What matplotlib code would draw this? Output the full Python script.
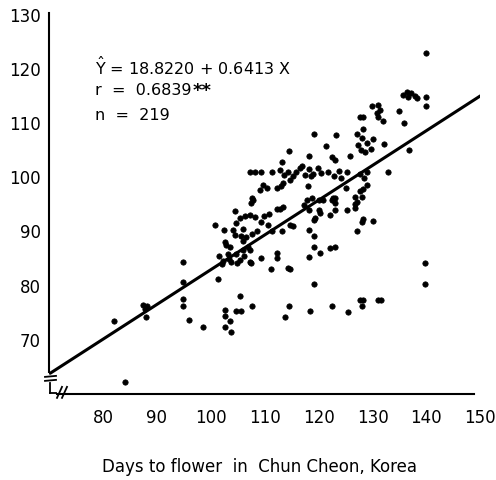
import matplotlib
matplotlib.use("Agg")
import matplotlib.pyplot as plt
from matplotlib.lines import Line2D

plt.rcParams['font.family'] = ['DejaVu Sans']
plt.rcParams['mathtext.fontset'] = 'dejavusans'

# ---- data ----
days_x = [
    82.0, 84.0, 87.5, 88.1, 87.8, 88.0, 94.9, 94.9, 94.9, 94.9, 95.9, 98.6,
    101.4, 105.5, 102.6, 102.6, 103.6, 102.6, 103.7, 104.7, 105.6, 107.6,
    113.8, 114.5, 118.4, 122.4, 125.5, 127.7, 128.2, 128.1, 131.0, 131.6,
    119.1, 114.7, 139.7, 139.7,
    101.5, 102.3, 103.1, 103.8, 104.6, 105.4, 106.1, 102.0, 103.4, 104.9,
    107.2, 107.5, 109.3,
    102.6, 102.9, 103.6, 106.9, 107.3, 106.0, 106.0,
    100.8, 102.4, 104.5,
    104.1, 104.5, 104.7, 105.5, 106.4, 107.3, 108.2, 109.4, 110.6, 111.4,
    105.6, 106.6, 107.6, 108.6, 109.9, 110.8, 106.0,
    112.3, 112.3, 111.2, 114.3,
    112.8, 112.3, 114.7, 113.2, 113.4,
    107.6, 107.4, 107.9,
    107.3, 108.2, 109.4, 111.3,
    112.8, 113.6, 114.4, 115.2,
    115.8, 116.6, 117.4, 118.2, 119.0, 119.8, 120.5, 117.0, 118.6,
    121.8, 122.8, 123.7, 125.2, 124.2,
    109.7, 110.4, 109.1, 113.4, 113.1, 112.2, 114.7, 118.1,
    113.2, 114.5, 118.2, 121.4, 119.1, 123.2, 122.4, 123.0, 125.9,
    117.8, 118.7, 120.0, 120.8, 122.4, 123.0, 123.0, 123.0, 122.7,
    117.2, 118.3, 120.1, 122.1, 125.2, 120.3,
    119.2, 119.3, 115.2,
    118.3, 119.1,
    119.1, 120.3, 122.1, 123.0, 118.2,
    125.0,
    126.8, 127.1, 126.8, 127.7, 126.8,
    127.7, 128.5, 129.0, 128.2, 128.9, 128.0,
    127.1, 128.0, 130.0, 128.2,
    132.9,
    127.2, 128.0, 129.0, 129.8, 127.9, 128.6, 130.0, 127.3, 128.3,
    127.7, 128.3, 129.9, 131.1, 130.8, 131.1,
    132.0, 134.9, 135.8, 132.1, 136.8, 131.4,
    135.7, 136.4, 137.1, 137.8, 138.3, 136.6,
    140.0, 140.0, 140.0,
]
days_y = [
    73.4, 62.3, 76.5, 76.2, 75.7, 74.2, 84.3, 80.6, 77.5, 76.3, 73.6, 72.3,
    81.2, 78.1, 75.5, 74.4, 73.4, 72.4, 71.5, 75.3, 75.3, 76.3,
    74.2, 76.3, 75.4, 76.3, 75.2, 77.3, 77.3, 76.3, 77.4, 77.4,
    80.3, 83.1, 84.1, 80.3,
    85.5, 84.6, 85.8, 84.4, 85.9, 84.8, 85.5, 84.0, 84.9, 84.2,
    84.4, 84.2, 85.1,
    88.1, 87.5, 87.2, 87.2, 86.6, 86.6, 88.2,
    91.2, 90.2, 93.8,
    90.3, 89.3, 91.6, 92.5, 92.8, 93.0, 92.6, 91.7, 91.2, 90.0,
    89.2, 89.0, 89.6, 90.0, 92.9, 93.3, 90.5,
    86.1, 85.1, 83.1, 83.2,
    94.1, 94.2, 91.2, 90.0, 94.6,
    96.2, 95.3, 95.8,
    100.9, 100.9, 100.9, 100.9,
    101.3, 100.4, 101.0, 100.3,
    101.0, 101.8, 100.4, 101.5, 100.6, 101.7, 100.8, 102.0, 100.2,
    101.0, 100.3, 101.2, 101.0, 99.8,
    98.6, 98.0, 97.7, 98.9, 98.3, 98.0, 99.5, 98.3,
    102.9, 104.9, 103.9, 105.8, 108.0, 107.8, 103.8, 103.2, 103.9,
    95.8, 96.1, 95.8, 95.8, 95.8, 96.1, 95.2, 94.0, 96.2,
    94.9, 94.0, 93.9, 93.1, 93.9, 93.4,
    92.1, 92.4, 91.1,
    90.2, 89.1,
    87.1, 86.1, 86.9, 87.1, 85.2,
    98.1,
    96.4, 95.5, 94.3, 97.4, 95.0,
    100.6, 99.8, 98.6, 97.9, 100.9, 96.4,
    90.0, 91.7, 92.0, 92.3,
    100.9,
    107.9, 107.2, 106.3, 105.3, 105.0, 104.7, 107.0, 106.0, 109.0,
    111.1, 111.1, 113.2, 113.4, 111.8, 111.2,
    110.3, 112.2, 110.0, 106.1, 105.1, 112.5,
    115.2, 115.8, 115.6, 115.0, 114.7, 114.9,
    122.9, 114.9, 113.1,
]
intercept = 18.8220
slope = 0.6413
x_ticks = [80, 90, 100, 110, 120, 130, 140, 150]
y_ticks = [70, 80, 90, 100, 110, 120, 130]
line_x = [70.2, 150]
x_label = "Days to flower  in  Chun Cheon, Korea"
eq_text = r"$\hat{\mathrm{Y}}$ = 18.8220 + 0.6413 X"
r_text = "r  =  0.6839"
sig_text = "**"
n_text = "n  =  219"

# ---- figure ----
fig = plt.figure(figsize=(4.96, 4.80), dpi=100)
ax = fig.add_axes([0.099, 0.179, 0.8694, 0.8017])
ax.set_xlim(70, 150)
ax.set_ylim(60, 131)

ax.scatter(days_x, days_y, s=15, color='black', edgecolors='black',
           linewidths=0.5, zorder=3)
ly = [intercept + slope * v for v in line_x]
ax.plot(line_x, ly, color='black', lw=2.2, zorder=4, solid_capstyle='round')

for s in ['top', 'right']:
    ax.spines[s].set_visible(False)
ax.spines['left'].set_bounds(64.0, 130.4)
ax.spines['bottom'].set_bounds(71.5, 148.8)
for s in ['left', 'bottom']:
    ax.spines[s].set_linewidth(1.5)

ax.set_xticks(x_ticks)
ax.set_yticks(y_ticks)
ax.tick_params(length=0, labelsize=12, pad=6)
ax.tick_params(axis='x', pad=11)
ax.set_xlabel(x_label, fontsize=12, va='center')
ax.xaxis.set_label_coords(0.489, -0.189)


# axis break decorations (axes-fraction coordinates)
def px(xp, yp):
    return ((xp - 49.1) / 431.2, (394.2 - yp) / 384.8)


segs = [
    [(45, 377), (56, 376)],
    [(45, 381), (56, 380)],
    [(50, 383), (50, 393)],
    [(50, 393), (56, 393)],
    [(57, 398), (62, 387)],
    [(62, 398), (67, 387)],
]
for seg in segs:
    (x0, y0), (x1, y1) = px(*seg[0]), px(*seg[1])
    ax.add_line(Line2D([x0, x1], [y0, y1], transform=ax.transAxes,
                       color='black', lw=1.3, clip_on=False))

# statistics text
tx, _ = px(95, 0)
ax.text(tx, px(0, 67)[1], eq_text, transform=ax.transAxes, fontsize=11.5,
        va='center', ha='left')
ax.text(tx, px(0, 91)[1], r_text, transform=ax.transAxes, fontsize=11.5,
        va='center', ha='left')
ax.text(px(193, 0)[0], px(0, 96)[1], sig_text, transform=ax.transAxes,
        fontsize=13, va='baseline', ha='left', fontweight='bold')
ax.text(tx, px(0, 116)[1], n_text, transform=ax.transAxes, fontsize=11.5,
        va='center', ha='left')

fig.savefig("out.png", dpi=100)
